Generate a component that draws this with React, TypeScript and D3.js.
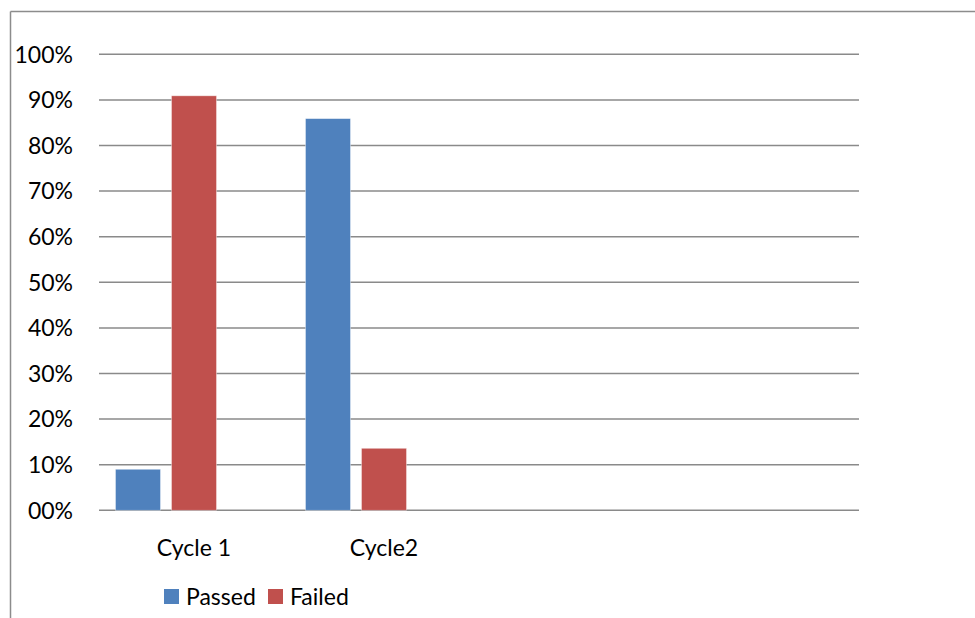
import React from "react";
import * as d3 from "d3";

const categories = ["Cycle 1", "Cycle2", "", " "];
const seriesNames = ["Passed", "Failed", "Series3"];
const passed = [9.0, 85.9, null, null];
const failed = [90.9, 13.6, null, null];
const series3 = [null, null, null, null];
const yTicks = [0, 10, 20, 30, 40, 50, 60, 70, 80, 90, 100];
const legendNames = ["Passed", "Failed"];
const colors = ["#4F81BD", "#C0504D", "#9BBB59"];

const W = 975;
const H = 618;
const plot = { left: 99, right: 859, top: 54.3, bottom: 510.3 };
const FONT = "Lato, 'Open Sans', sans-serif";
const FS = 23;

export default function App() {
  const x = d3
    .scaleBand<string>()
    .domain(categories)
    .range([plot.left, plot.right]);
  const inner = d3
    .scaleBand<string>()
    .domain(seriesNames)
    .range([0, x.bandwidth()])
    .paddingInner(0.196)
    .paddingOuter(0.294);
  const y = d3.scaleLinear().domain([0, 100]).range([plot.bottom, plot.top]);
  const allSeries = [passed, failed, series3];
  const fmt = (v: number) => (v === 0 ? "00%" : `${v}%`);

  return (
    <svg
      width={W}
      height={H}
      style={{ position: "absolute", left: 0, top: 0, background: "#fff" }}
    >
      <line x1={10.5} x2={W} y1={11.5} y2={11.5} stroke="#8c8c8c" strokeWidth={1.5} />
      <line x1={10.5} x2={10.5} y1={11.5} y2={H} stroke="#8c8c8c" strokeWidth={1.5} />
      {yTicks.map((t) => (
        <g key={t}>
          <line
            x1={plot.left}
            x2={plot.right}
            y1={y(t)}
            y2={y(t)}
            stroke="#8a8a8a"
            strokeWidth={1.5}
          />
          <text
            x={73}
            y={y(t)}
            dy="0.36em"
            textAnchor="end"
            fontFamily={FONT}
            fontSize={FS}
            fill="#000"
          >
            {fmt(t)}
          </text>
        </g>
      ))}
      {allSeries.map((vals, si) =>
        vals.map((v, ci) =>
          v == null ? null : (
            <rect
              key={`${si}-${ci}`}
              x={(x(categories[ci]) as number) + (inner(seriesNames[si]) as number)}
              width={inner.bandwidth()}
              y={y(v)}
              height={y(0) - y(v)}
              fill={colors[si]}
              stroke="#ffffff"
              strokeOpacity={0.5}
              strokeWidth={0.8}
            />
          )
        )
      )}
      {categories.map((c) =>
        c.trim() ? (
          <text
            key={c}
            x={(x(c) as number) + x.bandwidth() / 2}
            y={556}
            textAnchor="middle"
            fontFamily={FONT}
            fontSize={FS}
            fill="#000"
          >
            {c}
          </text>
        ) : null
      )}
      <g>
        <rect x={164} y={589} width={15} height={15} fill={colors[0]} />
        <text x={186} y={605} fontFamily={FONT} fontSize={FS} fill="#000">
          {legendNames[0]}
        </text>
        <rect x={268} y={589} width={15} height={15} fill={colors[1]} />
        <text x={290} y={605} fontFamily={FONT} fontSize={FS} fill="#000">
          {legendNames[1]}
        </text>
      </g>
    </svg>
  );
}
